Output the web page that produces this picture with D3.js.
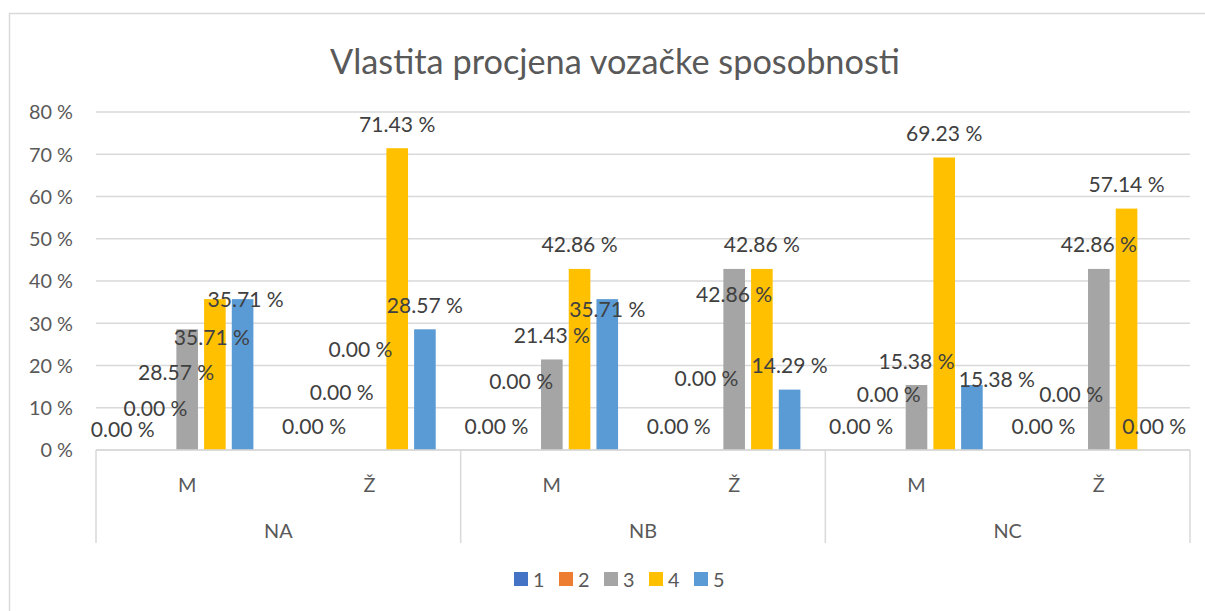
<!DOCTYPE html>
<html>
<head>
<meta charset="utf-8">
<script src="https://cdn.jsdelivr.net/npm/d3@7"></script>
<style>
  html, body { margin: 0; padding: 0; background: #fff; }
  svg { display: block; }
  text { font-family: Lato, "Open Sans", sans-serif; }
</style>
</head>
<body>
<svg id="chart" width="1205" height="611"></svg>
<script>
// ---------- DATA ----------
const title = "Vlastita procjena vozačke sposobnosti";
const groups = ["NA", "NB", "NC"];
const categories = ["M", "Ž", "M", "Ž", "M", "Ž"];
const seriesNames = ["1", "2", "3", "4", "5"];
const series1 = [0, 0, 0, 0, 0, 0];
const series2 = [0, 0, 0, 0, 0, 0];
const series3 = [28.57, 0, 21.43, 42.86, 15.38, 42.86];
const series4 = [35.71, 71.43, 42.86, 42.86, 69.23, 57.14];
const series5 = [35.71, 28.57, 35.71, 14.29, 15.38, 0];
const yTicks = [0, 10, 20, 30, 40, 50, 60, 70, 80];

// ---------- STYLE / LAYOUT ----------
const colors = ["#4472C4", "#ED7D31", "#A5A5A5", "#FFC000", "#5B9BD5"];
const seriesValues = [series1, series2, series3, series4, series5];
// manual nudges of data labels (as in the original Excel chart), [category][series] -> [dx, dy]
const labelNudges = [
  [[-9, 3], [-4, -18], [-11, 67], [-3, 62], [3, 24]],
  [[0, 0], [0, -34], [-9, -77], [0, 0], [0, 0]],
  [[0, 0], [-3, -45], [0, 0], [0, 0], [0, 34]],
  [[0, 0], [0, -48], [0, 50], [0, 0], [0, 0]],
  [[0, 0], [0, -32], [0, 0], [0, 0], [25, 18]],
  [[0, 0], [0, -32], [0, 0], [0, 0], [0, 0]]
];

const svg = d3.select("#chart");
const plot = { left: 96, right: 1190, top: 112, bottom: 450 };
const gridColor = "#d9d9d9";
const axisText = "#595959";
const labelText = "#404040";

// fit font size so that a sample string has a given width
function fitSize(sample, target, base) {
  const t = svg.append("text").attr("font-size", base).text(sample);
  const w = t.node().getComputedTextLength();
  t.remove();
  return base * target / w;
}
const titleSize = fitSize(title, 570, 30);
const tickSize = fitSize("80 %", 44, 20);
const dataSize = fitSize("0.00 %", 64, 20);
const catSize = fitSize("M", 19, 20);
const legendSize = tickSize;

// chart border
svg.append("rect")
  .attr("x", 9.5).attr("y", 13.5)
  .attr("width", 1205).attr("height", 640)
  .attr("fill", "none").attr("stroke", gridColor).attr("stroke-width", 1.5);

// title
svg.append("text")
  .attr("x", 615).attr("y", 60)
  .attr("text-anchor", "middle").attr("dominant-baseline", "central")
  .attr("font-size", titleSize).attr("fill", axisText)
  .text(title);

// scales
const x0 = d3.scaleBand().domain(d3.range(categories.length)).range([plot.left, plot.right]).padding(0);
const x1 = d3.scaleBand().domain(seriesNames).range([0, x0.bandwidth()]).paddingInner(0.22).paddingOuter(0.9);
const y = d3.scaleLinear().domain([0, 80]).range([plot.bottom, plot.top]);

// gridlines
svg.append("g").selectAll("line").data(yTicks).join("line")
  .attr("x1", plot.left).attr("x2", plot.right)
  .attr("y1", d => y(d)).attr("y2", d => y(d))
  .attr("stroke", gridColor).attr("stroke-width", 1.5);

// y axis labels
const yAxis = d3.axisLeft(y).tickValues(yTicks).tickSize(0).tickPadding(0).tickFormat(d => d + " %");
const yg = svg.append("g").attr("transform", `translate(73,0)`).call(yAxis);
yg.select(".domain").remove();
yg.selectAll("text").attr("font-size", tickSize).attr("fill", axisText)
  .attr("font-family", "Lato, 'Open Sans', sans-serif").attr("dy", "0.35em");

// bars
const bars = [];
categories.forEach((c, ci) => {
  seriesNames.forEach((s, si) => {
    bars.push({ ci, si, v: seriesValues[si][ci] });
  });
});
svg.append("g").selectAll("rect").data(bars).join("rect")
  .attr("x", d => x0(d.ci) + x1(seriesNames[d.si]))
  .attr("width", x1.bandwidth())
  .attr("y", d => y(d.v))
  .attr("height", d => y(0) - y(d.v))
  .attr("fill", d => colors[d.si]);

// category axis (two levels)
const groupScale = d3.scaleBand().domain(groups).range([plot.left, plot.right]).padding(0);
const axBottom = 543;
svg.append("line").attr("x1", plot.left).attr("x2", plot.right)
  .attr("y1", plot.bottom).attr("y2", plot.bottom)
  .attr("stroke", gridColor).attr("stroke-width", 1.5);
const seps = groups.map(g => groupScale(g)).concat([plot.right]);
svg.append("g").selectAll("line").data(seps).join("line")
  .attr("x1", d => d).attr("x2", d => d)
  .attr("y1", plot.bottom).attr("y2", axBottom)
  .attr("stroke", gridColor).attr("stroke-width", 1.5);
svg.append("g").selectAll("text").data(categories).join("text")
  .attr("x", (d, i) => x0(i) + x0.bandwidth() / 2)
  .attr("y", 484).attr("text-anchor", "middle").attr("dominant-baseline", "central")
  .attr("font-size", tickSize).attr("fill", axisText).text(d => d);
svg.append("g").selectAll("text").data(groups).join("text")
  .attr("x", d => groupScale(d) + groupScale.bandwidth() / 2)
  .attr("y", 530).attr("text-anchor", "middle").attr("dominant-baseline", "central")
  .attr("font-size", tickSize).attr("fill", axisText).text(d => d);

// data labels
svg.append("g").selectAll("text").data(bars).join("text")
  .attr("x", d => x0(d.ci) + x1(seriesNames[d.si]) + x1.bandwidth() / 2 + labelNudges[d.ci][d.si][0])
  .attr("y", d => y(d.v) - 25 + labelNudges[d.ci][d.si][1])
  .attr("text-anchor", "middle").attr("dominant-baseline", "central")
  .attr("font-size", dataSize).attr("fill", labelText)
  .text(d => d.v.toFixed(2) + " %");

// legend
const legendX = d3.scalePoint().domain(seriesNames).range([514, 694]);
const lg = svg.append("g").selectAll("g").data(seriesNames).join("g")
  .attr("transform", d => `translate(${legendX(d)},572)`);
lg.append("rect").attr("width", 14).attr("height", 14).attr("fill", (d, i) => colors[i]);
lg.append("text").attr("x", 19).attr("y", 7).attr("dominant-baseline", "central")
  .attr("font-size", legendSize).attr("fill", axisText).text(d => d);
</script>
</body>
</html>
